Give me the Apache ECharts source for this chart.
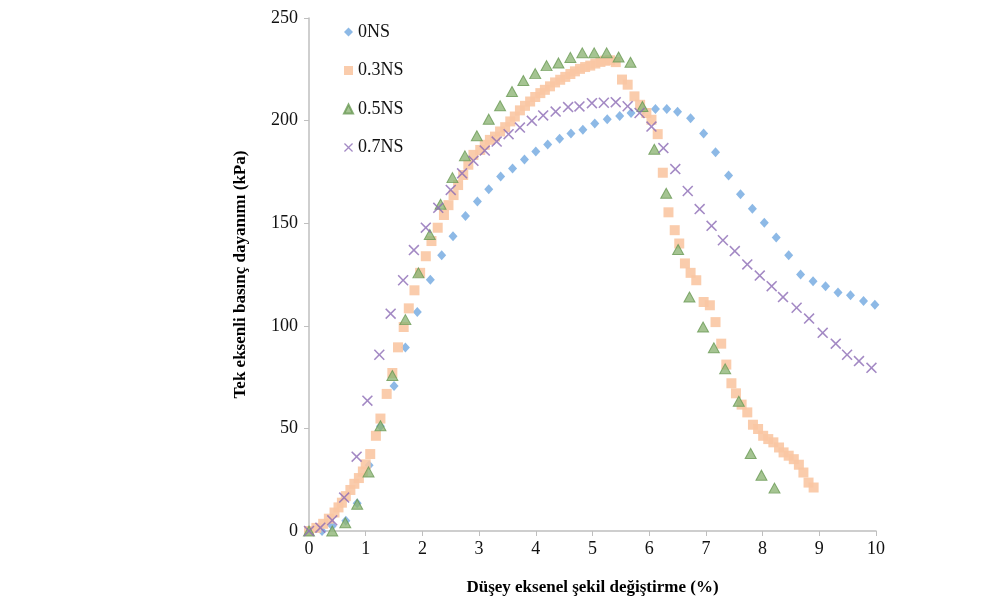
<!DOCTYPE html>
<html>
<head>
<meta charset="utf-8">
<script src="https://cdn.jsdelivr.net/npm/echarts@6/dist/echarts.min.js"></script>
<style>
html,body{margin:0;padding:0;background:#fff;}
#chart{width:981px;height:605px;}
</style>
</head>
<body>
<div id="chart"></div>
<script>
var seriesNames = ['0NS', '0.3NS', '0.5NS', '0.7NS'];
var xTicks = [0,1,2,3,4,5,6,7,8,9,10];
var yTicks = [0,50,100,150,200,250];

var ns0X = [0,0.23,0.41,0.65,0.85,1.06,1.26,1.50,1.70,1.91,2.14,2.34,2.54,2.76,2.97,3.17,3.38,3.59,3.80,4.00,4.21,4.42,4.62,4.83,5.04,5.26,5.48,5.68,5.90,6.11,6.31,6.50,6.73,6.96,7.17,7.40,7.61,7.82,8.03,8.24,8.46,8.67,8.89,9.11,9.33,9.55,9.78,9.98];
var ns0Y = [0,0,2.4,5,13.5,32,51,70.7,89.4,106.7,122.5,134.4,143.7,153.5,160.6,166.5,172.7,176.6,181,184.9,188.3,191.1,193.7,195.5,198.6,200.7,202.2,203.7,205.3,205.6,205.6,204.3,201.2,193.7,184.6,173.2,164.1,157,150.2,143,134.4,125,121.7,119.3,116.2,114.9,112.1,110.3];

var ns03X = [0,0.13,0.25,0.35,0.45,0.52,0.58,0.65,0.73,0.80,0.88,0.95,1.00,1.08,1.18,1.26,1.37,1.47,1.57,1.67,1.76,1.86,1.96,2.06,2.16,2.27,2.38,2.46,2.55,2.63,2.72,2.81,2.90,3.02,3.10,3.19,3.28,3.37,3.46,3.55,3.63,3.72,3.81,3.90,3.99,4.08,4.16,4.25,4.34,4.43,4.52,4.61,4.69,4.78,4.87,4.96,5.05,5.14,5.22,5.31,5.41,5.52,5.62,5.74,5.84,5.95,6.04,6.15,6.24,6.34,6.45,6.53,6.63,6.73,6.83,6.96,7.07,7.17,7.27,7.36,7.45,7.53,7.63,7.73,7.83,7.92,8.01,8.10,8.19,8.29,8.37,8.46,8.55,8.64,8.72,8.81,8.90];
var ns03Y = [0,1.5,3.5,6,9,11.5,13.8,17,20,23,25.8,29,32.5,37.5,46.4,54.8,66.8,77,89.5,99.4,108.5,117.3,125.8,133.9,141.3,147.8,154,158.8,163.7,168.6,173.5,178.5,183.3,185.7,188.2,190.6,192.2,194.7,196.8,199.6,202,205,207.2,209.3,211.5,213.4,215,216.7,218.6,219.9,221.3,222.7,224,225.2,226.1,226.8,227.8,228.6,229.2,229.4,228.5,220,217.5,211.8,207.7,203.7,200.4,193.4,174.6,155.3,146.6,140.1,130.4,125.8,122.2,111.6,110,101.8,91.3,81.1,72,67.1,61.6,57.8,51.8,49.7,46.4,44.8,43.2,40.7,38.3,36.7,35,32.3,28.5,23.6,21.2];

var ns05X = [0,0.41,0.64,0.85,1.05,1.26,1.47,1.70,1.93,2.13,2.32,2.53,2.75,2.96,3.17,3.37,3.58,3.78,3.99,4.19,4.40,4.61,4.82,5.03,5.25,5.46,5.67,5.88,6.09,6.30,6.51,6.71,6.95,7.14,7.34,7.58,7.79,7.98,8.21];
var ns05Y = [0,0,4,13,28.8,51.3,75.8,103,125.8,144.5,159.2,172.2,182.8,192.6,200.7,207.2,214.2,219.5,222.9,226.8,228.1,230.8,233,233,233,231,228.4,206.9,186,164.6,137.2,114,99.4,89.3,79,63.2,37.8,27.2,20.9];

var ns07X = [0,0.20,0.41,0.62,0.84,1.03,1.24,1.44,1.66,1.85,2.06,2.28,2.50,2.70,2.90,3.10,3.31,3.52,3.72,3.93,4.13,4.35,4.57,4.77,4.99,5.20,5.41,5.62,5.83,6.04,6.25,6.46,6.68,6.89,7.10,7.30,7.51,7.73,7.95,8.16,8.36,8.60,8.82,9.06,9.29,9.49,9.70,9.92];
var ns07Y = [0,1.6,5.2,16.3,36.2,63.5,85.9,105.9,122.2,136.9,147.8,157.5,166.2,174.3,180.4,185.4,189.8,193.4,196.6,199.9,202.5,204.4,206.6,206.9,208.5,208.7,209,207,203.7,197.1,186.6,176.4,165.7,156.9,148.7,141.7,136.4,129.9,124.5,119.3,114,108.8,103.5,96.6,91.3,85.9,82.8,79.5];

function pairs(xs, ys){ return xs.map(function(x,i){ return [x, ys[i]]; }); }

var crossPath = 'path://M0,1 L1,0 L5,4 L9,0 L10,1 L6,5 L10,9 L9,10 L5,6 L1,10 L0,9 L4,5 Z';
var serif = '"Liberation Serif", "DejaVu Serif", serif';

var chart = echarts.init(document.getElementById('chart'), null, {renderer:'canvas'});
chart.setOption({
  animation: false,
  backgroundColor: '#ffffff',
  grid: {left: 309, right: 105, top: 18, bottom: 74, containLabel: false, outerBoundsMode: 'none'},
  legend: {
    orient: 'vertical', left: 338, top: 18, itemGap: 20.5,
    itemWidth: 9, itemHeight: 9,
    textStyle: {fontFamily: serif, fontSize: 18, color: '#111'},
    data: seriesNames.map(function(n){ return {name: n}; })
  },
  xAxis: {
    type: 'value', min: 0, max: 10, interval: 1,
    name: 'Düşey eksenel şekil değiştirme (%)', nameLocation: 'middle', nameGap: 48,
    nameTextStyle: {fontFamily: serif, fontSize: 17, fontWeight: 'bold', color: '#000'},
    axisLine: {show: true, lineStyle: {color: '#bfbfbf', width: 1.5}},
    axisTick: {show: true, length: 5, lineStyle: {color: '#bfbfbf'}},
    axisLabel: {fontFamily: serif, fontSize: 18, color: '#111', margin: 9,
      formatter: function(v){ return xTicks.indexOf(v) >= 0 ? String(v) : ''; }},
    splitLine: {show: false}
  },
  yAxis: {
    type: 'value', min: 0, max: 250, interval: 50,
    name: 'Tek eksenli basınç dayanımı (kPa)', nameLocation: 'middle', nameGap: 60,
    nameTextStyle: {fontFamily: serif, fontSize: 17, fontWeight: 'bold', color: '#000'},
    axisLine: {show: true, lineStyle: {color: '#bfbfbf', width: 1.5}},
    axisTick: {show: true, length: 5, lineStyle: {color: '#bfbfbf'}},
    axisLabel: {fontFamily: serif, fontSize: 18, color: '#111', margin: 11,
      formatter: function(v){ return yTicks.indexOf(v) >= 0 ? String(v) : ''; }},
    splitLine: {show: false}
  },
  series: [
    {name: '0NS', type: 'scatter', symbol: 'diamond', symbolSize: [9, 10],
     itemStyle: {color: '#8db9e6', opacity: 1}, data: pairs(ns0X, ns0Y)},
    {name: '0.3NS', type: 'scatter', symbol: 'rect', symbolSize: 10,
     itemStyle: {color: '#f9c7a3', opacity: 0.9}, data: pairs(ns03X, ns03Y)},
    {name: '0.5NS', type: 'scatter', symbol: 'triangle', symbolSize: [11, 10],
     itemStyle: {color: '#8fb577', borderColor: '#6a9a55', borderWidth: 1}, data: pairs(ns05X, ns05Y)},
    {name: '0.7NS', type: 'scatter', symbol: crossPath, symbolSize: 11,
     itemStyle: {color: '#8c6bb5'}, data: pairs(ns07X, ns07Y)}
  ]
});
</script>
</body>
</html>
